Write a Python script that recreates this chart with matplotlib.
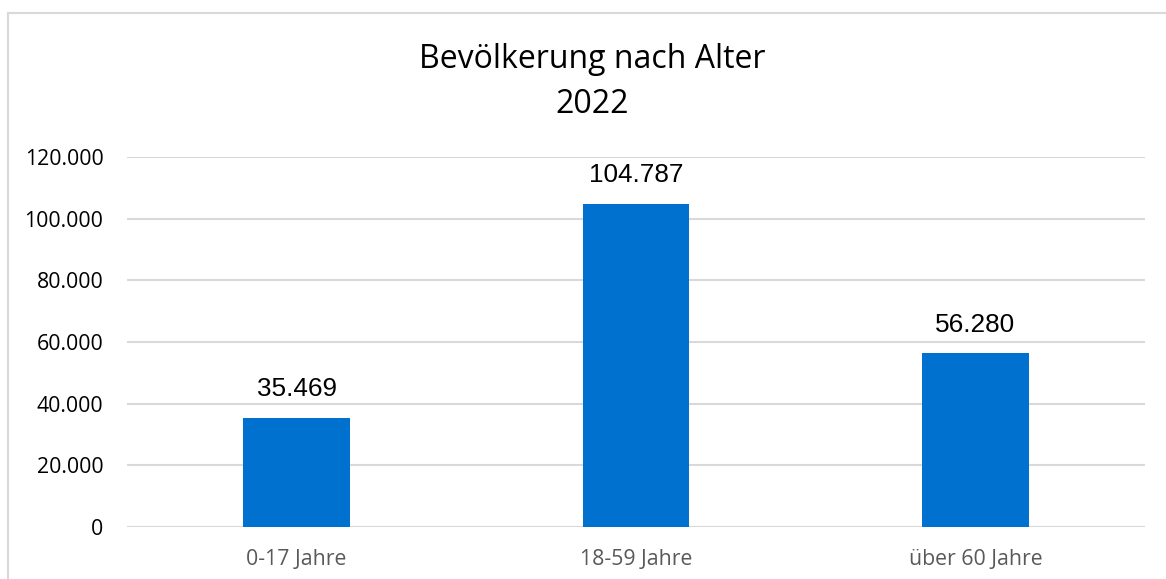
import matplotlib
matplotlib.use("Agg")
import matplotlib.pyplot as plt
from matplotlib.lines import Line2D

W, H = 1166, 579

categories = ["0-17 Jahre", "18-59 Jahre", "über 60 Jahre"]
values = [35469, 104787, 56280]
yticks = [0, 20000, 40000, 60000, 80000, 100000, 120000]

BAR_COLOR = "#0071CE"
GRID_COLOR = "#D9D9D9"


def de_fmt(v):
    return f"{v:,.0f}".replace(",", ".")


fig = plt.figure(figsize=(W / 100, H / 100), dpi=100)
fig.patch.set_facecolor("white")

# chart frame (only left and top edges visible)
fig.add_artist(Line2D([8 / W, 8 / W], [0, 1 - 13 / H], color=GRID_COLOR, lw=1.5,
                      transform=fig.transFigure))
fig.add_artist(Line2D([8 / W, 1], [1 - 13 / H, 1 - 13 / H], color=GRID_COLOR, lw=1.5,
                      transform=fig.transFigure))

ax = fig.add_axes([127 / W, 1 - 527 / H, (1145 - 127) / W, (527 - 157) / H])
x = range(len(categories))
bars = ax.bar(x, values, width=0.315, color=BAR_COLOR, zorder=3)

for b, v in zip(bars, values):
    ax.annotate(de_fmt(v), (b.get_x() + b.get_width() / 2, v), xytext=(0, 12),
                textcoords="offset points", ha="center", va="bottom",
                fontsize=18.8, family="Liberation Sans", color="black")

ax.set_xlim(-0.5, len(categories) - 0.5)
ax.set_ylim(0, 120000)
ax.set_yticks(yticks)
ax.set_yticklabels([de_fmt(t) for t in yticks], family="Open Sans", fontsize=15.3,
                   color="black")
ax.set_xticks(list(x))
ax.set_xticklabels(categories, family="Open Sans", fontsize=15.3, color="#595959")
ax.tick_params(axis="y", length=0, pad=17)
ax.tick_params(axis="x", length=0, pad=16)

ax.grid(axis="y", color=GRID_COLOR, lw=1.5, zorder=0)
for s in ax.spines.values():
    s.set_visible(False)
ax.axhline(0, color=GRID_COLOR, lw=1.5, zorder=1)

fig.text(592 / W, 1 - 68 / H, "Bevölkerung nach Alter", ha="center", va="baseline",
         fontsize=23, family="Open Sans", color="black")
fig.text(592 / W, 1 - 113 / H, "2022", ha="center", va="baseline",
         fontsize=23, family="Open Sans", color="black")

fig.savefig("out.png", dpi=100, facecolor="white")
